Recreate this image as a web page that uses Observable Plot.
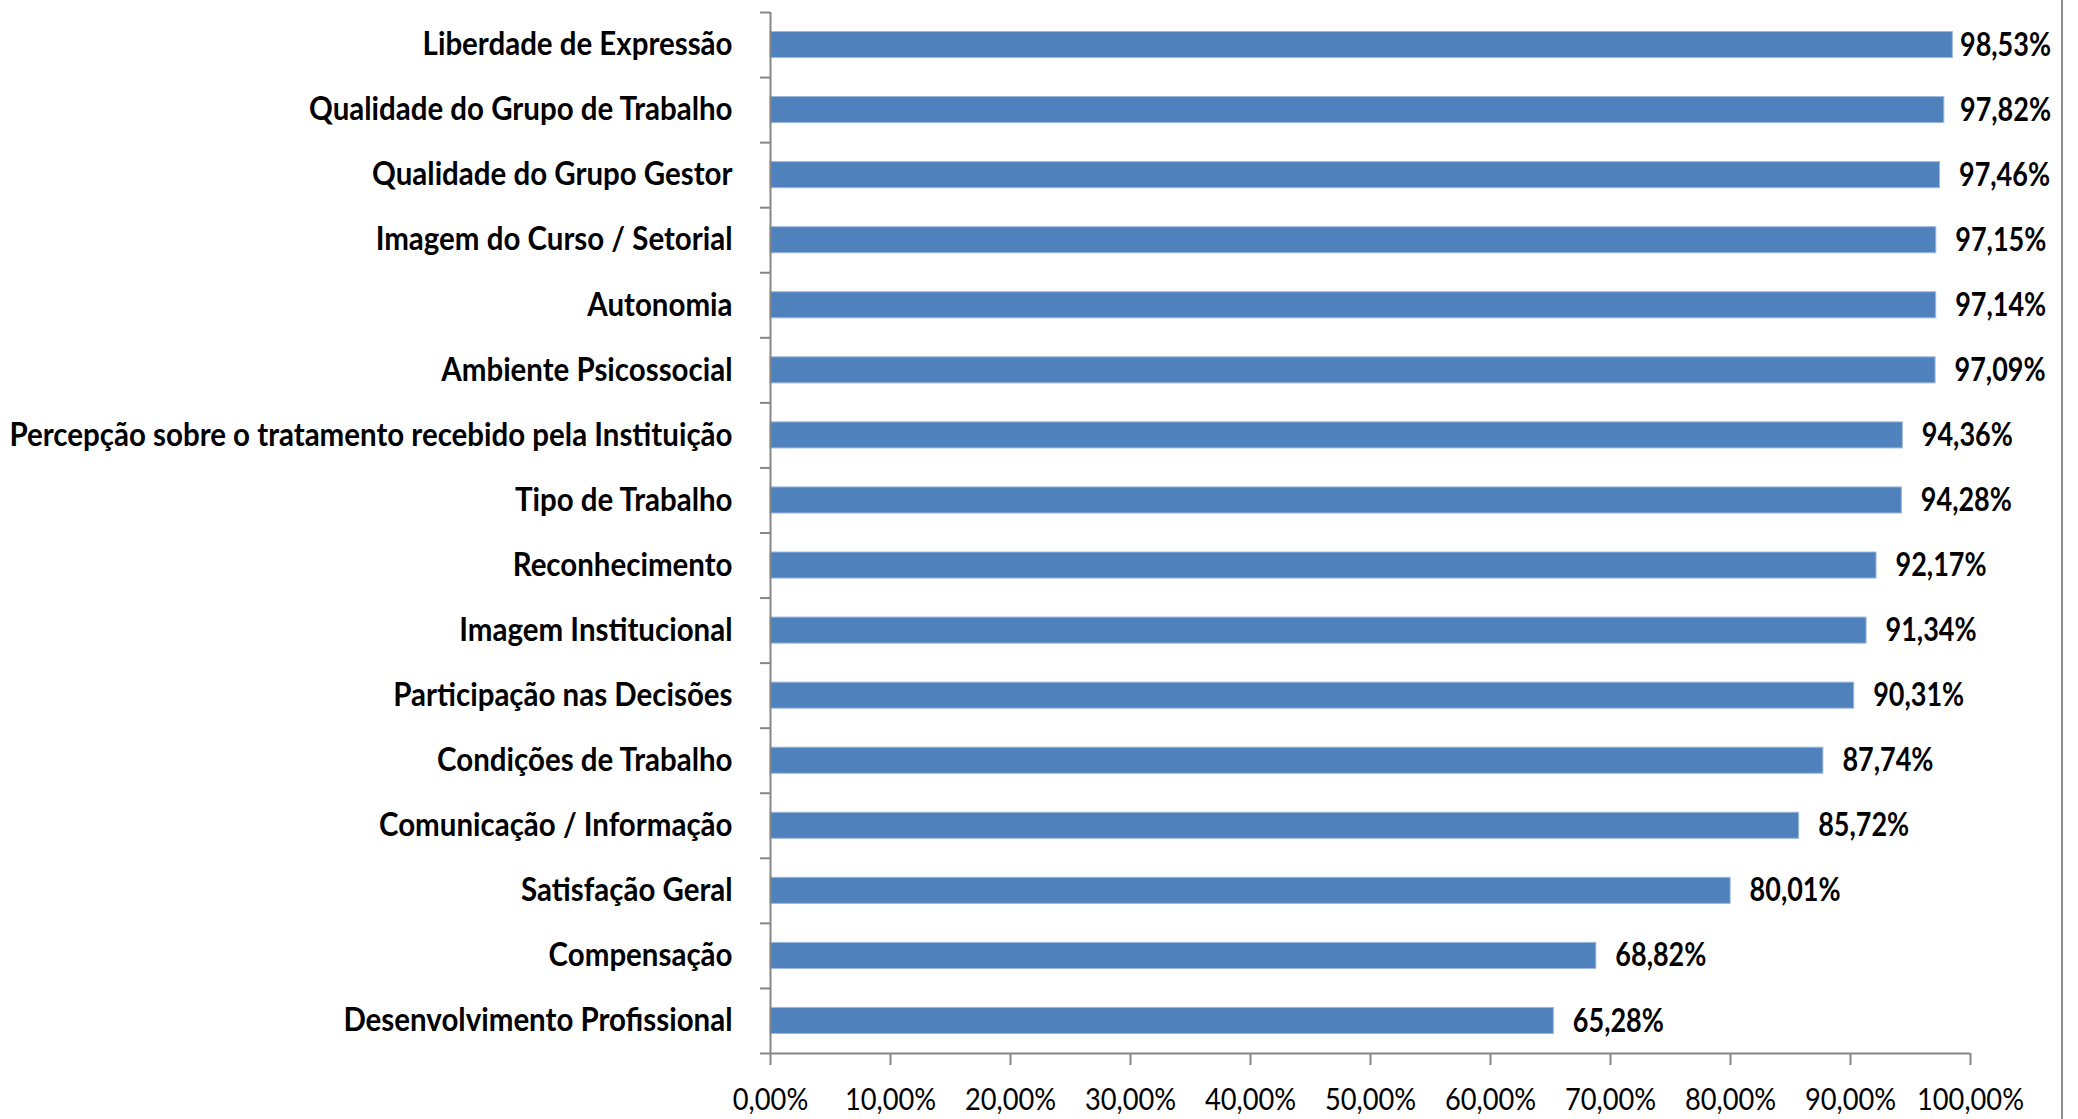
<!DOCTYPE html>
<html>
<head>
<meta charset="utf-8">
<script src="https://cdn.jsdelivr.net/npm/d3@7"></script>
<script src="https://cdn.jsdelivr.net/npm/@observablehq/plot@0.6"></script>
<style>
  html, body { margin: 0; padding: 0; background: #fff; }
  #wrap { position: relative; width: 2078px; height: 1119px; overflow: hidden; }
  #border { position: absolute; left: 2061px; top: 0; width: 2px; height: 1119px; background: #8c8c8c; }
</style>
</head>
<body>
<div id="wrap"><div id="border"></div></div>
<script>
const categories = [
  "Liberdade de Expressão",
  "Qualidade do Grupo de Trabalho",
  "Qualidade do Grupo Gestor",
  "Imagem do Curso / Setorial",
  "Autonomia",
  "Ambiente Psicossocial",
  "Percepção sobre o tratamento recebido pela Instituição",
  "Tipo de Trabalho",
  "Reconhecimento",
  "Imagem Institucional",
  "Participação nas Decisões",
  "Condições de Trabalho",
  "Comunicação / Informação",
  "Satisfação Geral",
  "Compensação",
  "Desenvolvimento Profissional"
];
const values = [98.53, 97.82, 97.46, 97.15, 97.14, 97.09, 94.36, 94.28, 92.17, 91.34, 90.31, 87.74, 85.72, 80.01, 68.82, 65.28];
const xTicks = [0, 10, 20, 30, 40, 50, 60, 70, 80, 90, 100];

const data = categories.map((name, i) => ({name, value: values[i], i}));
const n = categories.length;
const fmt = v => v.toFixed(2).replace(".", ",") + "%";

const FONT = "Lato, 'Open Sans', sans-serif";
const AXIS = "#868686";

const chart = Plot.plot({
  width: 2078,
  height: 1119,
  marginLeft: 770,
  marginRight: 108,
  marginTop: 12,
  marginBottom: 66,
  style: {fontFamily: FONT, background: "white", color: "black"},
  x: {domain: [0, 100]},
  y: {domain: [0, n], reverse: true},
  marks: [
    Plot.rectX(data, {
      x: "value",
      y1: d => d.i,
      y2: d => d.i + 1,
      insetTop: 19.5,
      insetBottom: 19.5,
      fill: "#4F81BD",
      stroke: "#9DB8DB",
      strokeWidth: 1
    }),
    Plot.ruleX([0], {stroke: AXIS, strokeWidth: 2}),
    Plot.ruleY([n], {stroke: AXIS, strokeWidth: 2}),
    Plot.axisY({
      ticks: d3.range(0, n + 1),
      tickSize: 10,
      tickFormat: () => "",
      stroke: AXIS,
      strokeWidth: 2
    }),
    Plot.axisX({
      ticks: xTicks,
      tickSize: 12,
      tickPadding: 22,
      tickFormat: fmt,
      stroke: AXIS,
      strokeWidth: 2,
      fontSize: 31,
      fill: "black",
      label: null
    }),
    Plot.text(data, {
      y: d => d.i + 0.5,
      frameAnchor: "left",
      textAnchor: "end",
      dx: -38,
      text: "name",
      fontSize: 32,
      fontWeight: "bold",
      fill: "black",
      className: "ylab"
    }),
    Plot.text(data, {
      x: "value",
      y: d => d.i + 0.5,
      textAnchor: "start",
      dx: 19,
      text: d => fmt(d.value),
      fontSize: 33,
      fontWeight: "bold",
      fill: "black",
      className: "vlab"
    })
  ]
});
document.getElementById("wrap").appendChild(chart);

// Condense text horizontally to mimic the narrow font of the original
function condense(nodes, refWidth, pick) {
  nodes = Array.from(nodes);
  if (!nodes.length) return [];
  const widths = nodes.map(t => t.getComputedTextLength());
  const ref = pick(widths);
  if (!ref) return [];
  const k = Math.min(1, refWidth / ref);
  nodes.forEach((t, j) => {
    t.setAttribute("textLength", (widths[j] * k).toFixed(2));
    t.setAttribute("lengthAdjust", "spacingAndGlyphs");
  });
  return nodes;
}
function run() {
  condense(chart.querySelectorAll("g.ylab text"), 723, w => Math.max(...w));
  const v = condense(chart.querySelectorAll("g.vlab text"), 91, w => w[13]);
  condense(chart.querySelectorAll('g[aria-label="x-axis tick label"] text'), 107, w => w[w.length - 1]);
  // keep value labels inside the chart area (as the original does), shifting left if needed
  const limit = 2051;
  const origin = chart.getBoundingClientRect().left;
  v.forEach(t => {
    const r = t.getBoundingClientRect();
    const right = r.right - origin;
    if (right > limit) {
      const cur = parseFloat(t.getAttribute("dx") || "0") || 0;
      t.setAttribute("dx", cur - (right - limit));
    }
  });
}
if (document.fonts && document.fonts.ready) document.fonts.ready.then(run); else run();
</script>
</body>
</html>
